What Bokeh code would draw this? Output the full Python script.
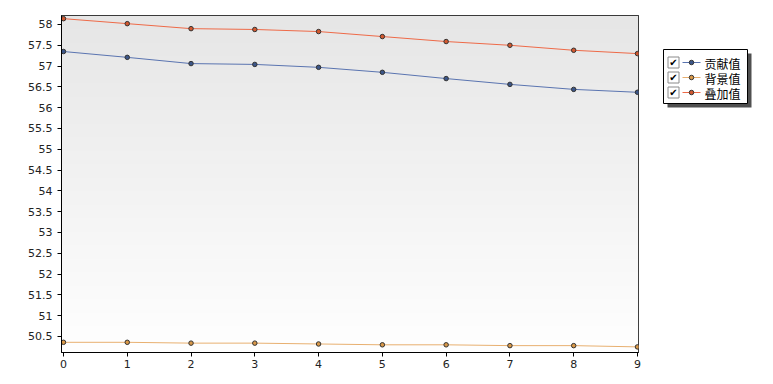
import numpy as np
from bokeh.plotting import figure
from bokeh.layouts import row
from bokeh.models import FixedTicker, Range1d
from bokeh.core.properties import value
from bokeh.embed import file_html
from bokeh.resources import INLINE

# ---- data ----
x_vals = [0, 1, 2, 3, 4, 5, 6, 7, 8, 9]
contrib = [57.35, 57.21, 57.06, 57.04, 56.97, 56.85, 56.70, 56.56, 56.44, 56.37]   # 贡献值
backgr = [50.36, 50.36, 50.34, 50.34, 50.32, 50.30, 50.30, 50.28, 50.28, 50.25]    # 背景值
overlay = [58.14, 58.02, 57.90, 57.88, 57.83, 57.71, 57.59, 57.50, 57.38, 57.30]   # 叠加值
series_names = ["贡献值", "背景值", "叠加值"]
y_ticks = [50.5, 51, 51.5, 52, 52.5, 53, 53.5, 54, 54.5, 55, 55.5, 56, 56.5, 57, 57.5, 58]
y_tick_labels = ["50.5", "51", "51.5", "52", "52.5", "53", "53.5", "54", "54.5",
                 "55", "55.5", "56", "56.5", "57", "57.5", "58"]

line_colors = ["#5a74b0", "#e8b070", "#ee6a48"]
fill_colors = ["#3c5688", "#d99848", "#d2582f"]

X0, X1 = -0.031, 9.016
Y0, Y1 = 50.115, 58.216

p = figure(width=648, height=376, output_backend="svg", toolbar_location=None,
           x_range=Range1d(X0, X1), y_range=Range1d(Y0, Y1),
           min_border_left=61, min_border_top=15, min_border_right=10, min_border_bottom=24,
           frame_width=577, frame_height=337)
p.title.visible = False
p.grid.visible = False
p.outline_line_color = "black"
p.outline_line_width = 1
p.background_fill_color = "white"
p.border_fill_color = "white"

# background gradient (top light gray -> bottom white)
n = 200
t = np.linspace(0, 1, n)  # 0 bottom -> 1 top
g = (255 - t * (255 - 230)).astype(np.uint32)
img = np.zeros((n, 1), dtype=np.uint32)
view = img.view(dtype=np.uint8).reshape((n, 1, 4))
view[:, 0, 0] = g
view[:, 0, 1] = g
view[:, 0, 2] = g
view[:, 0, 3] = 255
p.image_rgba(image=[img], x=X0, y=Y0, dw=X1 - X0, dh=Y1 - Y0, level="image")

for ys, lc, fc in zip([contrib, backgr, overlay], line_colors, fill_colors):
    p.line(x_vals, ys, line_color=lc, line_width=1)
    p.scatter(x_vals, ys, size=4.5, fill_color=fc, line_color="#333333", line_width=1)

for ax in (p.xaxis[0], p.yaxis[0]):
    ax.axis_line_color = "black"
    ax.major_tick_line_color = "black"
    ax.major_tick_in = 0
    ax.major_tick_out = 4
    ax.minor_tick_line_color = None
    ax.major_label_text_font = "DejaVu Sans"
    ax.major_label_text_font_size = "11px"
    ax.major_label_text_color = "#222222"
p.xaxis[0].ticker = FixedTicker(ticks=x_vals)
p.xaxis[0].major_label_standoff = 3
p.yaxis[0].ticker = FixedTicker(ticks=y_ticks)
p.yaxis[0].major_label_overrides = {t_: s for t_, s in zip(y_ticks, y_tick_labels)}
p.yaxis[0].major_label_standoff = 5

# ---- legend panel ----
LW, LH = 117, 376
lg = figure(width=LW, height=LH, output_backend="svg", toolbar_location=None,
            x_range=Range1d(0, LW), y_range=Range1d(LH, 0),
            x_axis_location=None, y_axis_location=None,
            min_border=0, frame_width=LW, frame_height=LH)
lg.title.visible = False
lg.grid.visible = False
lg.outline_line_color = None
lg.background_fill_color = "white"
lg.border_fill_color = "white"

dy = -16
bx0, bx1, by0, by1 = 15, 99, 50 + dy, 104 + dy
lg.quad(left=bx0 + 4, right=bx1 + 4, top=by0 + 4, bottom=by1 + 4,
        fill_color="#505050", line_color=None)
lg.quad(left=bx0, right=bx1, top=by0, bottom=by1,
        fill_color="white", line_color="black", line_width=1)
rows_y = [63 + dy, 78 + dy, 93 + dy]
lg.rect(x=[25] * 3, y=rows_y, width=11, height=11, fill_color="white",
        line_color="#8a8a8a", line_width=1)
lg.text(x=[25] * 3, y=rows_y, text=["✔"] * 3, text_align="center", text_baseline="middle",
        text_font=value("DejaVu Sans"), text_font_size="10px", text_color="black")
for yy, lc, fc in zip(rows_y, line_colors, fill_colors):
    lg.line([34, 52], [yy, yy], line_color=lc, line_width=1)
    lg.scatter([43], [yy], size=4.5, fill_color=fc, line_color="#333333")
lg.text(x=[56] * 3, y=[r + 1 for r in rows_y], text=series_names, text_baseline="middle",
        text_font=value("Noto Sans CJK SC"), text_font_size="12px", text_color="black")

layout = row(p, lg, spacing=0)
open("out.html", "w").write(file_html(layout, INLINE))
